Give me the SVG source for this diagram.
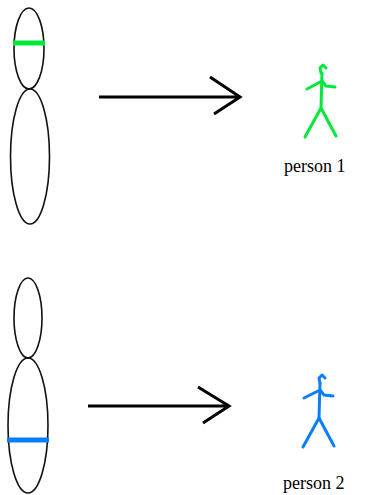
<svg xmlns="http://www.w3.org/2000/svg" width="370" height="495" viewBox="0 0 370 495">
  <style>
    .chrom { fill: none; stroke: #111; stroke-width: 1.6; }
    .band { stroke-width: 5; stroke-linecap: butt; }
    .arrow { fill: none; stroke: #000; stroke-width: 3; stroke-linecap: butt; stroke-linejoin: miter; }
    .fig { fill: none; stroke-width: 3; stroke-linecap: round; stroke-linejoin: round; }
    .label { font-family: "Liberation Serif", "Times New Roman", serif; font-size: 18px; fill: #000; }
  </style>

  <!-- chromosome with green marker -->
  <g id="chromosome1">
    <ellipse class="chrom" cx="29" cy="48.5" rx="15" ry="40.5"/>
    <ellipse class="chrom" cx="30" cy="156.5" rx="19.5" ry="67.5"/>
    <line class="band" x1="13" y1="43" x2="45" y2="43" stroke="#00e83c"/>
  </g>

  <!-- chromosome with blue marker -->
  <g id="chromosome2">
    <ellipse class="chrom" cx="28" cy="318" rx="14" ry="40"/>
    <ellipse class="chrom" cx="28" cy="425.5" rx="20" ry="67.5"/>
    <line class="band" x1="7" y1="440" x2="49" y2="440" stroke="#0a7ef8"/>
  </g>

  <!-- arrows -->
  <g id="connectors">
    <path class="arrow" d="M99 97 H240 M210 77 L240 97 L214 114"/>
    <path class="arrow" d="M88 406 H229 M198 387 L229 406 L203 423"/>
  </g>

  <!-- person 1 -->
  <g id="person1">
    <g class="fig" stroke="#00e83c">
      <path d="M321 73 L320 68 L323 65 L326 68"/>
      <path d="M322 73 L321 108"/>
      <path d="M307 89 L322 81 L326 86 L335 87"/>
      <path d="M321 108 L305 137 M321 108 L336 136"/>
    </g>
    <text class="label" x="284" y="172">person 1</text>
  </g>

  <!-- person 2 -->
  <g id="person2">
    <g class="fig" stroke="#0a7ef8">
      <path d="M320 383 L319 378 L322 375 L325 378"/>
      <path d="M320 383 L319 418"/>
      <path d="M304 398 L320 390 L324 395 L333 396"/>
      <path d="M319 418 L303 447 M319 418 L334 446"/>
    </g>
    <text class="label" x="283" y="489">person 2</text>
  </g>
</svg>
